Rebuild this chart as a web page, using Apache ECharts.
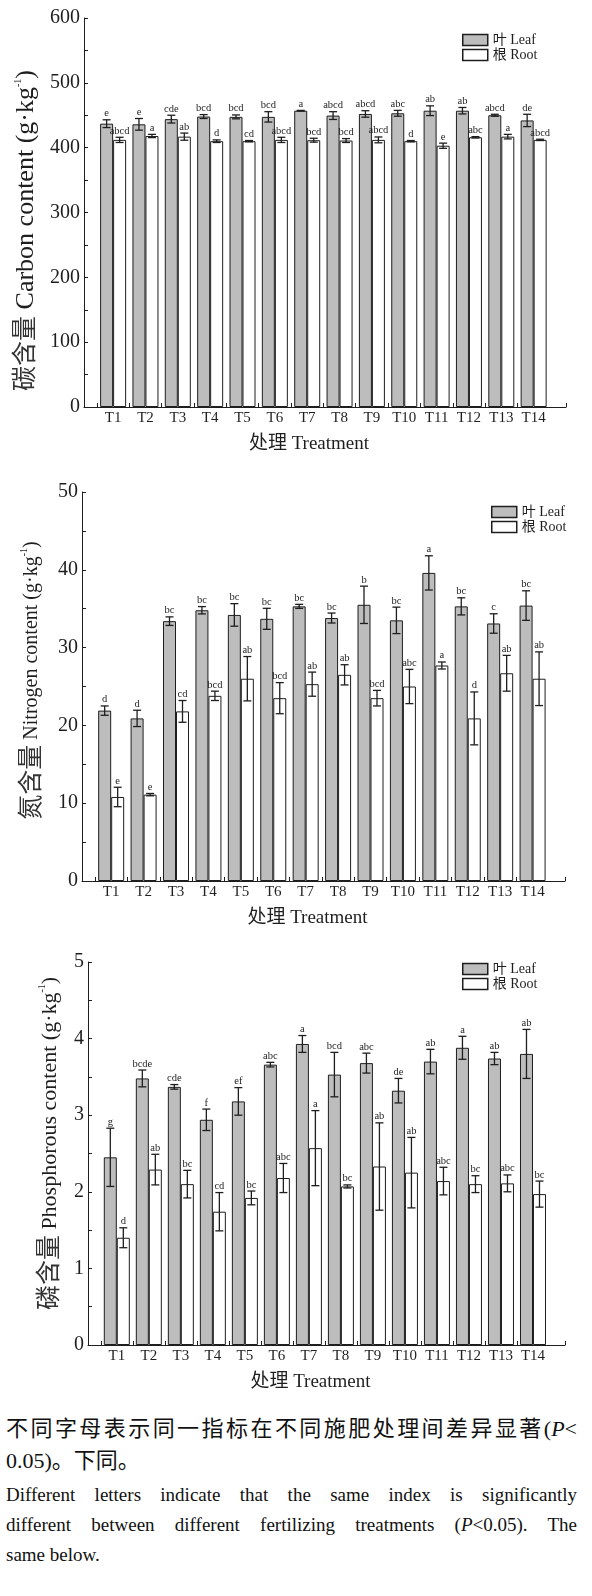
<!DOCTYPE html>
<html>
<head>
<meta charset="utf-8">
<script src="https://cdn.jsdelivr.net/npm/echarts@6.0.0/dist/echarts.min.js"></script>
<style>
html, body { margin: 0; padding: 0; background: #fff; }
#main { position: absolute; left: 0; top: 0; width: 592px; height: 1400px; }
.note { position: absolute; left: 6px; width: 571px; color: #111; white-space: nowrap;
        font-family: 'Liberation Serif', 'Noto Sans CJK SC', serif; text-align: justify; text-align-last: justify; }
.cn { font-size: 22px; }
.en { font-size: 19px; }
.last { text-align-last: left; }
</style>
</head>
<body>
<div id="main"></div>
<div class="note cn" style="top:1410px;">不同字母表示同一指标在不同施肥处理间差异显著(<i>P</i>&lt;</div>
<div class="note cn last" style="top:1442px;">0.05)。下同。</div>
<div class="note en" style="top:1484px;">Different letters indicate that the same index is significantly</div>
<div class="note en" style="top:1514px;">different between different fertilizing treatments (<i>P</i>&lt;0.05). The</div>
<div class="note en last" style="top:1544px;">same below.</div>
<script>
// 处理
var categories = ['T1','T2','T3','T4','T5','T6','T7','T8','T9','T10','T11','T12','T13','T14'];

// 碳含量 Carbon content
var carbonLeaf = [437, 436, 444, 448, 447.5, 447.5, 457, 449.5, 452, 453, 457, 457, 450, 442];
var carbonLeafErr = [6, 9, 6, 3, 3, 8, 0.5, 6, 5, 4.5, 7.5, 5, 1.5, 9.5];
var carbonLeafSig = ['e','e','cde','bcd','bcd','bcd','a','abcd','abcd','abc','ab','ab','abcd','de'];
var carbonRoot = [412, 418, 417, 410, 410, 412, 411.5, 411, 412, 410, 403, 416, 417, 412];
var carbonRootErr = [4, 2.5, 5.5, 2, 1, 4, 3, 3, 4.5, 1, 4, 1, 3.5, 1];
var carbonRootSig = ['abcd','a','ab','d','cd','abcd','bcd','bcd','abcd','d','e','abc','a','abcd'];
var carbonTicks = [0, 100, 200, 300, 400, 500, 600];

// 氮含量 Nitrogen content
var nitroLeaf = [21.9, 20.9, 33.4, 34.8, 34.2, 33.7, 35.3, 33.8, 35.5, 33.5, 39.6, 35.3, 33.1, 35.4];
var nitroLeafErr = [0.6, 1.05, 0.55, 0.47, 1.45, 1.35, 0.26, 0.64, 2.4, 1.7, 2.2, 1.1, 1.25, 1.9];
var nitroLeafSig = ['d','d','bc','bc','bc','bc','bc','bc','b','bc','a','bc','c','bc'];
var nitroRoot = [10.8, 11.1, 21.8, 23.8, 26.0, 23.5, 25.3, 26.5, 23.5, 25.0, 27.7, 20.9, 26.7, 26.0];
var nitroRootErr = [1.25, 0.15, 1.4, 0.6, 2.85, 2.0, 1.55, 1.3, 1.0, 2.2, 0.45, 3.4, 2.3, 3.45];
var nitroRootSig = ['e','e','cd','bcd','ab','bcd','ab','ab','bcd','abc','a','d','ab','ab'];
var nitroTicks = [0, 10, 20, 30, 40, 50];

// 磷含量 Phosphorous content
var phosLeaf = [2.45, 3.48, 3.37, 2.94, 3.18, 3.66, 3.93, 3.53, 3.68, 3.32, 3.70, 3.88, 3.74, 3.80];
var phosLeafErr = [0.38, 0.11, 0.03, 0.14, 0.18, 0.03, 0.11, 0.29, 0.13, 0.16, 0.16, 0.15, 0.08, 0.32];
var phosLeafSig = ['g','bcde','cde','f','ef','abc','a','bcd','abc','de','ab','a','ab','ab'];
var phosRoot = [1.40, 2.29, 2.10, 1.74, 1.92, 2.18, 2.57, 2.07, 2.33, 2.25, 2.14, 2.10, 2.11, 1.97];
var phosRootErr = [0.13, 0.2, 0.18, 0.25, 0.09, 0.19, 0.49, 0.02, 0.57, 0.46, 0.18, 0.11, 0.11, 0.17];
var phosRootSig = ['d','ab','bc','cd','bc','abc','a','bc','ab','ab','abc','bc','abc','bc'];
var phosTicks = [0, 1, 2, 3, 4, 5];

var FONT = "'Liberation Serif', 'Noto Sans CJK SC', serif";
var INK = '#1e1e1e';
var BAR_W = 13;

var panels = [
    { grid: {left: 84, top: 18, width: 482, height: 389}, max: 600, step: 50, ticks: carbonTicks,
      cn: '碳含量', en: ' Carbon content (g·kg', enSize: 26, nameGap: 37, namePad: [0, 36, 0, 0],
      legend: {left: 457, top: 28},
      leaf: carbonLeaf, leafErr: carbonLeafErr, leafSig: carbonLeafSig,
      root: carbonRoot, rootErr: carbonRootErr, rootSig: carbonRootSig },
    { grid: {left: 82, top: 492, width: 483, height: 389}, max: 50, step: 5, ticks: nitroTicks,
      cn: '氮含量', en: ' Nitrogen content (g·kg', enSize: 20, nameGap: 37, namePad: [0, 0, 0, 12],
      legend: {left: 486, top: 500},
      leaf: nitroLeaf, leafErr: nitroLeafErr, leafSig: nitroLeafSig,
      root: nitroRoot, rootErr: nitroRootErr, rootSig: nitroRootSig },
    { grid: {left: 88, top: 962, width: 477, height: 383}, max: 5, step: 0.5, ticks: phosTicks,
      cn: '磷含量', en: ' Phosphorous content (g·kg', enSize: 22, nameGap: 20, namePad: [0, 0, 0, 20],
      legend: {left: 457, top: 957},
      leaf: phosLeaf, leafErr: phosLeafErr, leafSig: phosLeafSig,
      root: phosRoot, rootErr: phosRootErr, rootSig: phosRootSig }
];

// 误差线 + 显著性字母
function errorBars(letters, dx) {
    return function (params, api) {
        var x = api.value(0), m = api.value(1), e = api.value(2);
        var hi = api.coord([x, m + e]);
        var lo = api.coord([x, m - e]);
        var cx = hi[0] + dx, w = 4;
        var st = {stroke: INK, lineWidth: 1.3};
        return {
            type: 'group',
            children: [
                {type: 'line', shape: {x1: cx, y1: hi[1], x2: cx, y2: lo[1]}, style: st},
                {type: 'line', shape: {x1: cx - w, y1: hi[1], x2: cx + w, y2: hi[1]}, style: st},
                {type: 'line', shape: {x1: cx - w, y1: lo[1], x2: cx + w, y2: lo[1]}, style: st},
                {type: 'text', x: cx, y: hi[1] - 1,
                 style: {text: letters[params.dataIndex], align: 'center', verticalAlign: 'bottom',
                         font: '10.5px ' + FONT, fill: INK}}
            ]
        };
    };
}

var tickPos = [], labelPos = [];
for (var k = 0; k < categories.length; k++) {
    tickPos.push(k + 0.5);
    labelPos.push(k + 1);
}
tickPos.push(15);

var option = {
    animation: false,
    backgroundColor: '#fff',
    grid: [], xAxis: [], yAxis: [], legend: [], series: []
};

panels.forEach(function (p, i) {
    option.grid.push(p.grid);

    var yTicks = [];
    for (var v = 0; v <= p.max + 1e-9; v += p.step) yTicks.push(Math.round(v * 100) / 100);

    option.xAxis.push({
        type: 'value', gridIndex: i, min: 0.1, max: 15,
        axisLine: {lineStyle: {color: INK, width: 1}},
        axisTick: {inside: true, length: 4, customValues: tickPos, lineStyle: {color: INK}},
        axisLabel: {customValues: labelPos, margin: 4, fontSize: 15, fontFamily: FONT, color: INK,
                    formatter: function (val) { return categories[Math.round(val) - 1] || ''; }},
        splitLine: {show: false},
        name: '处理 Treatment', nameLocation: 'middle', nameGap: 28,
        nameTextStyle: {fontSize: 19, fontFamily: FONT, color: INK, padding: [0, 32, 0, 0]}
    });

    option.yAxis.push({
        type: 'value', gridIndex: i, min: 0, max: p.max, interval: p.step,
        axisLine: {show: true, lineStyle: {color: INK, width: 1}},
        axisTick: {show: true, inside: true, length: 4, customValues: yTicks, lineStyle: {color: INK}},
        axisLabel: {customValues: p.ticks, margin: 4, fontSize: 20, fontFamily: FONT, color: INK},
        splitLine: {show: false},
        name: '{c|' + p.cn + '}{t|' + p.en + '}{s|-1}{t|)}', nameLocation: 'middle', nameGap: p.nameGap,
        nameTextStyle: {
            padding: p.namePad,
            rich: {
                c: {fontSize: 25, fontFamily: FONT, color: '#333', lineHeight: 26},
                t: {fontSize: p.enSize, fontFamily: FONT, color: INK, lineHeight: 26},
                s: {fontSize: 10, fontFamily: FONT, color: INK, verticalAlign: 'top', lineHeight: 26}
            }
        }
    });

    option.legend.push({
        left: p.legend.left, top: p.legend.top, orient: 'vertical',
        selectedMode: false, icon: 'rect', itemWidth: 25, itemHeight: 11, itemGap: 1,
        itemStyle: {borderColor: INK, borderWidth: 1.5},
        textStyle: {fontSize: 14, fontFamily: FONT, color: INK},
        data: ['叶 Leaf', '根 Root']
    });

    option.series.push({
        type: 'bar', name: '叶 Leaf', xAxisIndex: i, yAxisIndex: i,
        barWidth: BAR_W, barGap: '0%',
        itemStyle: {color: '#bdbdbd', borderColor: INK, borderWidth: 1},
        data: p.leaf.map(function (v, j) { return [j + 1, v]; })
    }, {
        type: 'bar', name: '根 Root', xAxisIndex: i, yAxisIndex: i,
        barWidth: BAR_W, barGap: '0%',
        itemStyle: {color: '#ffffff', borderColor: INK, borderWidth: 1},
        data: p.root.map(function (v, j) { return [j + 1, v]; })
    }, {
        type: 'custom', xAxisIndex: i, yAxisIndex: i, z: 5,
        renderItem: errorBars(p.leafSig, -BAR_W / 2),
        data: p.leaf.map(function (v, j) { return [j + 1, v, p.leafErr[j]]; })
    }, {
        type: 'custom', xAxisIndex: i, yAxisIndex: i, z: 5,
        renderItem: errorBars(p.rootSig, BAR_W / 2),
        data: p.root.map(function (v, j) { return [j + 1, v, p.rootErr[j]]; })
    });
});

var chart = echarts.init(document.getElementById('main'));
chart.setOption(option);
</script>
</body>
</html>
